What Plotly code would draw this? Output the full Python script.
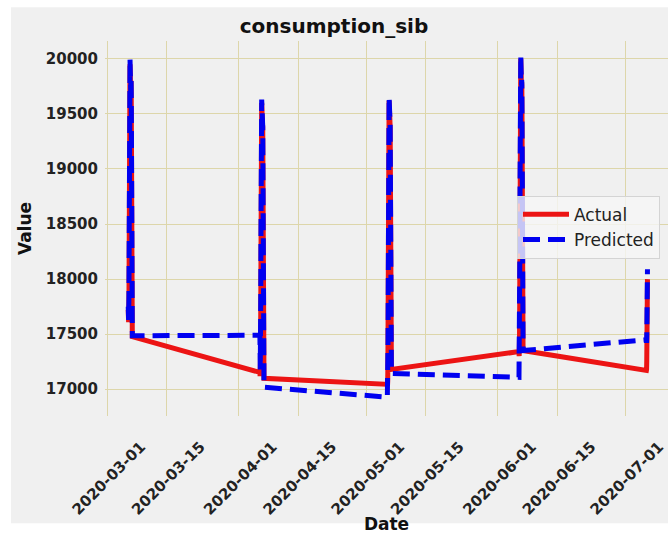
import pandas as pd
import plotly.graph_objects as go

# Hourly readings, one day per month (the last day is partial)
days = ["2020-03-06", "2020-04-06", "2020-05-06", "2020-06-06", "2020-07-06"]
hours_per_day = [24, 24, 24, 24, 7]

actual_mar = [17720, 17640, 17610, 17650, 17800, 18150, 18700, 19250, 19650, 19900, 19950, 19870,
              19760, 19700, 19680, 19720, 19800, 19640, 19300, 18850, 18400, 18000, 17700, 17477]
actual_apr = [17153, 17120, 17140, 17250, 17480, 17900, 18450, 18950, 19300, 19520, 19600, 19560,
              19450, 19380, 19350, 19400, 19380, 19150, 18750, 18300, 17850, 17500, 17250, 17099]
actual_may = [17045, 17030, 17070, 17200, 17450, 17880, 18420, 18930, 19300, 19530, 19620, 19580,
              19470, 19400, 19380, 19420, 19390, 19160, 18760, 18300, 17860, 17520, 17300, 17180]
actual_jun = [17342, 17300, 17330, 17480, 17780, 18250, 18850, 19400, 19780, 19960, 20000, 19950,
              19840, 19760, 19740, 19790, 19760, 19500, 19050, 18550, 18050, 17680, 17450, 17351]
actual_jul = [17171, 17180, 17260, 17420, 17620, 17830, 18000]

pred_mar = [17750, 17660, 17630, 17690, 17850, 18220, 18760, 19300, 19700, 19960, 20000, 19920,
            19800, 19740, 19700, 19760, 19830, 19700, 19350, 18900, 18450, 18050, 17720, 17486]
pred_apr = [17490, 17300, 17180, 17230, 17450, 17880, 18420, 18930, 19320, 19560, 19630, 19590,
            19480, 19400, 19370, 19420, 19390, 19180, 18780, 18320, 17860, 17480, 17150, 17018]
pred_may = [16928, 17000, 17060, 17190, 17430, 17860, 18400, 18920, 19310, 19550, 19650, 19600,
            19490, 19410, 19390, 19440, 19400, 19170, 18770, 18310, 17850, 17490, 17260, 17144]
pred_jun = [17108, 17230, 17310, 17470, 17790, 18280, 18890, 19440, 19820, 19990, 20030, 19980,
            19860, 19780, 19760, 19810, 19780, 19520, 19070, 18570, 18060, 17690, 17460, 17351]
pred_jul = [17450, 17420, 17470, 17610, 17790, 17960, 18090]

tick_dates = ["2020-03-01", "2020-03-15", "2020-04-01", "2020-04-15", "2020-05-01",
              "2020-05-15", "2020-06-01", "2020-06-15", "2020-07-01"]
y_ticks = [17000, 17500, 18000, 18500, 19000, 19500, 20000]

actual = actual_mar + actual_apr + actual_may + actual_jun + actual_jul
predicted = pred_mar + pred_apr + pred_may + pred_jun + pred_jul

timestamps = []
for d, n in zip(days, hours_per_day):
    timestamps.extend(pd.date_range(d, periods=n, freq="h"))

FONT = "DejaVu Sans"
BG = "#f0f0f0"
GRID = "#ddd6aa"

fig = go.Figure()
fig.add_trace(go.Scatter(
    x=timestamps, y=actual, mode="lines", name="Actual",
    line=dict(color="#ec1414", width=5),
))
fig.add_trace(go.Scatter(
    x=timestamps, y=predicted, mode="lines", name="Predicted",
    line=dict(color="#0000f0", width=5, dash="17px,8px"),
))

axis_font = dict(family=FONT, size=15, color="#222222", weight="bold")

fig.update_layout(
    width=668, height=534,
    margin=dict(l=105, r=0, t=41, b=115),
    paper_bgcolor="white",
    plot_bgcolor="rgba(0,0,0,0)",
    font=dict(family=FONT, color="#222222"),
    title=dict(
        text="consumption_sib", x=0.5, xanchor="center",
        y=1 - 26 / 534, yanchor="middle", yref="container",
        font=dict(family=FONT, size=20, color="#111111", weight="bold"),
    ),
    xaxis=dict(
        range=["2020-02-29 12:40", "2020-07-11 02:00"],
        tickvals=tick_dates, tickformat="%Y-%m-%d",
        tickangle=-45, ticklabelshift=34, ticklabelstandoff=18,
        ticklabeloverflow="allow",
        tickfont=axis_font, ticks="", showline=False, zeroline=False,
        showgrid=True, gridcolor=GRID, gridwidth=1,
        title=dict(text="Date", font=dict(family=FONT, size=17, color="#111111", weight="bold"),
                   standoff=4),
    ),
    yaxis=dict(
        range=[16757, 20162],
        tickvals=y_ticks, tickformat="d",
        tickfont=axis_font, ticks="", showline=False, zeroline=False,
        ticklabelstandoff=6,
        showgrid=True, gridcolor=GRID, gridwidth=1,
        title=dict(text="Value", font=dict(family=FONT, size=17, color="#111111", weight="bold"),
                   standoff=9),
    ),
    legend=dict(
        x=(517 - 105) / 563, y=1 - (197 - 41) / 378, xanchor="left", yanchor="top",
        bgcolor="rgba(246,246,246,0.8)", bordercolor="#d4d4d4", borderwidth=1,
        font=dict(family=FONT, size=17, color="#222222"),
        itemwidth=46, tracegroupgap=0,
    ),
    shapes=[dict(
        type="rect", xref="paper", yref="paper", layer="below",
        x0=(11 - 105) / 563, x1=1.02, y0=1 - (527 - 41) / 378, y1=1 - (7 - 41) / 378,
        fillcolor=BG, line=dict(width=0),
    )],
)

fig.write_html("out.html")
